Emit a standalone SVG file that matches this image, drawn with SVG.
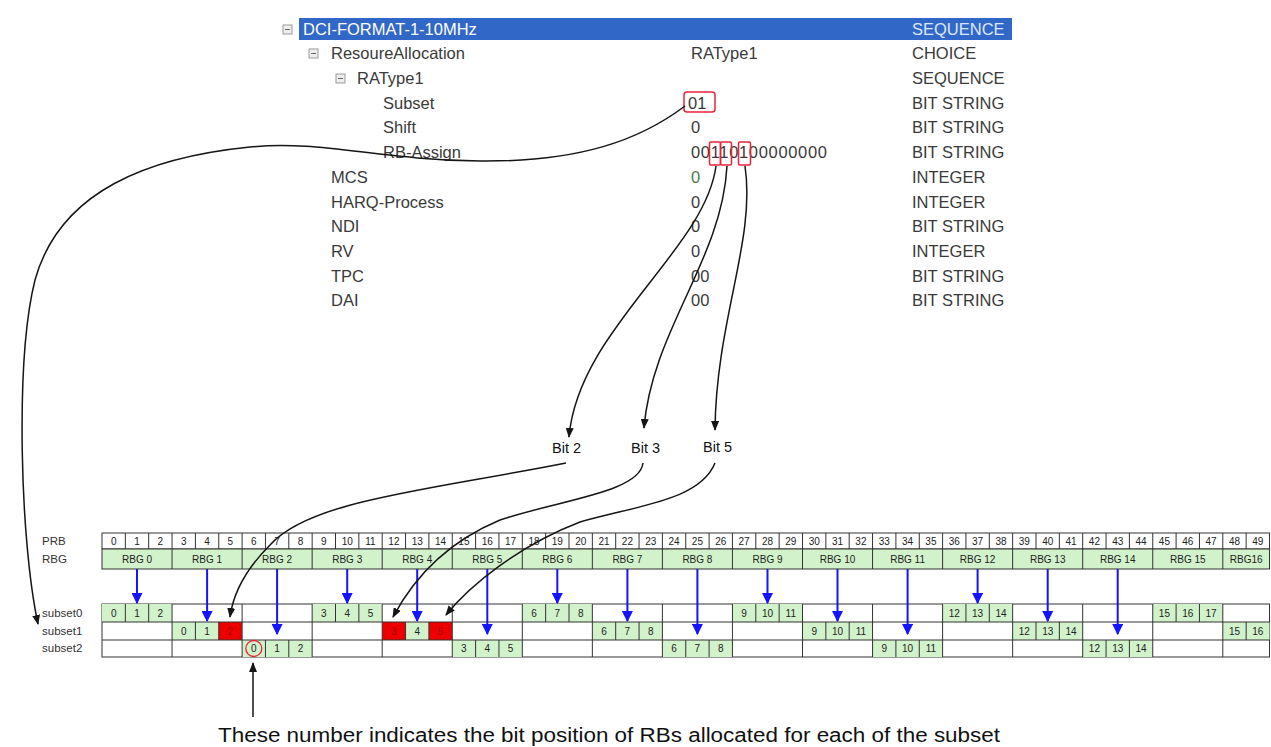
<svg xmlns="http://www.w3.org/2000/svg" width="1271" height="747" viewBox="0 0 1271 747">
<defs>
<style>
.t{font-family:"Liberation Sans",Arial,sans-serif;font-size:16.5px;fill:#3a3a3a}
.n{font-family:"Liberation Sans",Arial,sans-serif;font-size:10px;fill:#222;text-anchor:middle}
.nr{font-family:"Liberation Sans",Arial,sans-serif;font-size:10px;fill:#a00000;text-anchor:middle}
.lbl{font-family:"Liberation Sans",Arial,sans-serif;font-size:11.5px;fill:#333}
.bit{font-family:"Liberation Sans",Arial,sans-serif;font-size:14.5px;fill:#111}
.g{fill:#d2f2cc}
.grid{stroke:#333;stroke-width:1;fill:none}
.blue{stroke:#1414ff;stroke-width:2;fill:none;marker-end:url(#mb)}
.blk{stroke:#151515;stroke-width:1.5;fill:none;marker-end:url(#mk)}
.rb{fill:none;stroke:#e8223a;stroke-width:1.5}
.ic{fill:#eeeeee;stroke:#9a9a9a;stroke-width:1}
</style>
<marker id="mk" viewBox="0 0 10 8" refX="9" refY="4" markerWidth="10" markerHeight="8" markerUnits="userSpaceOnUse" orient="auto"><path d="M0,0L10,4L0,8z" fill="#151515"/></marker>
<marker id="mb" viewBox="0 0 10 10" refX="9" refY="5" markerWidth="11" markerHeight="11" markerUnits="userSpaceOnUse" orient="auto"><path d="M0,0L10,5L0,10z" fill="#1414ff"/></marker>
</defs>
<rect width="1271" height="747" fill="#ffffff"/>

<g id="tree">
  <g id="row-dci">
    <rect x="299" y="18" width="713" height="22" fill="#3168c8"/>
    <rect x="283" y="25" width="9" height="9" class="ic"/><path d="M285 29.5H290" stroke="#666"/>
    <text x="303" y="35" class="t" style="fill:#ffffff">DCI-FORMAT-1-10MHz</text>
    <text x="912" y="35" class="t" style="fill:#dce7ff">SEQUENCE</text>
  </g>
  <g id="row-resalloc">
    <rect x="309" y="49" width="9" height="9" class="ic"/><path d="M311 53.5H316" stroke="#666"/>
    <text x="331" y="59" class="t">ResoureAllocation</text>
    <text x="691" y="59" class="t">RAType1</text>
    <text x="912" y="59" class="t">CHOICE</text>
  </g>
  <g id="row-ratype1">
    <rect x="336" y="74" width="9" height="9" class="ic"/><path d="M338 78.5H343" stroke="#666"/>
    <text x="357" y="84" class="t">RAType1</text>
    <text x="912" y="84" class="t">SEQUENCE</text>
  </g>
  <g id="row-subset">
    <text x="383" y="109" class="t">Subset</text>
    <text x="688" y="109" class="t">01</text>
    <rect x="684" y="92" width="31" height="20" rx="3" class="rb"/>
    <text x="912" y="109" class="t">BIT STRING</text>
  </g>
  <g id="row-shift">
    <text x="383" y="133" class="t">Shift</text>
    <text x="691" y="133" class="t">0</text>
    <text x="912" y="133" class="t">BIT STRING</text>
  </g>
  <g id="row-rbassign">
    <text x="383" y="158" class="t">RB-Assign</text>
    <text x="691" y="158" class="t" textLength="136" lengthAdjust="spacing">00110100000000</text>
    <rect x="709.5" y="142" width="11" height="23" rx="1.5" class="rb"/>
    <rect x="720.5" y="142" width="11" height="23" rx="1.5" class="rb"/>
    <rect x="738.5" y="142" width="12" height="23" rx="1.5" class="rb"/>
    <text x="912" y="158" class="t">BIT STRING</text>
  </g>
  <g id="row-mcs">
    <text x="331" y="183" class="t">MCS</text>
    <text x="691" y="183" class="t" style="fill:#4d7a4d">0</text>
    <text x="912" y="183" class="t">INTEGER</text>
  </g>
  <g id="row-harq">
    <text x="331" y="208" class="t">HARQ-Process</text>
    <text x="691" y="208" class="t">0</text>
    <text x="912" y="208" class="t">INTEGER</text>
  </g>
  <g id="row-ndi">
    <text x="331" y="232" class="t">NDI</text>
    <text x="691" y="232" class="t">0</text>
    <text x="912" y="232" class="t">BIT STRING</text>
  </g>
  <g id="row-rv">
    <text x="331" y="257" class="t">RV</text>
    <text x="691" y="257" class="t">0</text>
    <text x="912" y="257" class="t">INTEGER</text>
  </g>
  <g id="row-tpc">
    <text x="331" y="282" class="t">TPC</text>
    <text x="691" y="282" class="t">00</text>
    <text x="912" y="282" class="t">BIT STRING</text>
  </g>
  <g id="row-dai">
    <text x="331" y="306" class="t">DAI</text>
    <text x="691" y="306" class="t">00</text>
    <text x="912" y="306" class="t">BIT STRING</text>
  </g>
</g>

<g id="bit-labels">
  <g id="bit2"><text x="552" y="453" class="bit">Bit 2</text></g>
  <g id="bit3"><text x="631" y="453" class="bit">Bit 3</text></g>
  <g id="bit5"><text x="703" y="452" class="bit">Bit 5</text></g>
</g>

<g id="table">
  <g id="row-labels">
    <text x="42" y="545" class="lbl">PRB</text>
    <text x="42" y="563" class="lbl">RBG</text>
    <text x="42" y="617" class="lbl">subset0</text>
    <text x="42" y="635" class="lbl">subset1</text>
    <text x="42" y="652" class="lbl">subset2</text>
  </g>
  <g id="prb-row">
    <rect x="102" y="533" width="1167.5" height="16" fill="#ffffff" stroke="#333"/>
    <path class="grid" d="M125.35 533V549M148.7 533V549M172.05 533V549M195.4 533V549M218.75 533V549M242.1 533V549M265.45 533V549M288.8 533V549M312.15 533V549M335.5 533V549M358.85 533V549M382.2 533V549M405.55 533V549M428.9 533V549M452.25 533V549M475.6 533V549M498.95 533V549M522.3 533V549M545.65 533V549M569 533V549M592.35 533V549M615.7 533V549M639.05 533V549M662.4 533V549M685.75 533V549M709.1 533V549M732.45 533V549M755.8 533V549M779.15 533V549M802.5 533V549M825.85 533V549M849.2 533V549M872.55 533V549M895.9 533V549M919.25 533V549M942.6 533V549M965.95 533V549M989.3 533V549M1012.65 533V549M1036 533V549M1059.35 533V549M1082.7 533V549M1106.05 533V549M1129.4 533V549M1152.75 533V549M1176.1 533V549M1199.45 533V549M1222.8 533V549M1246.15 533V549"/>
    <text class="n" y="545"><tspan x="113.7">0</tspan><tspan x="137">1</tspan><tspan x="160.4">2</tspan><tspan x="183.7">3</tspan><tspan x="207.1">4</tspan><tspan x="230.4">5</tspan><tspan x="253.8">6</tspan><tspan x="277.1">7</tspan><tspan x="300.5">8</tspan><tspan x="323.8">9</tspan><tspan x="347.2">10</tspan><tspan x="370.5">11</tspan><tspan x="393.9">12</tspan><tspan x="417.2">13</tspan><tspan x="440.6">14</tspan><tspan x="463.9">15</tspan><tspan x="487.3">16</tspan><tspan x="510.6">17</tspan><tspan x="534">18</tspan><tspan x="557.3">19</tspan><tspan x="580.7">20</tspan><tspan x="604">21</tspan><tspan x="627.4">22</tspan><tspan x="650.7">23</tspan><tspan x="674.1">24</tspan><tspan x="697.4">25</tspan><tspan x="720.8">26</tspan><tspan x="744.1">27</tspan><tspan x="767.5">28</tspan><tspan x="790.8">29</tspan><tspan x="814.2">30</tspan><tspan x="837.5">31</tspan><tspan x="860.9">32</tspan><tspan x="884.2">33</tspan><tspan x="907.6">34</tspan><tspan x="930.9">35</tspan><tspan x="954.3">36</tspan><tspan x="977.6">37</tspan><tspan x="1001">38</tspan><tspan x="1024.3">39</tspan><tspan x="1047.7">40</tspan><tspan x="1071">41</tspan><tspan x="1094.4">42</tspan><tspan x="1117.7">43</tspan><tspan x="1141.1">44</tspan><tspan x="1164.4">45</tspan><tspan x="1187.8">46</tspan><tspan x="1211.1">47</tspan><tspan x="1234.5">48</tspan><tspan x="1257.8">49</tspan></text>
  </g>
  <g id="rbg-row">
    <rect x="102" y="549" width="1167.5" height="20" class="g" stroke="#333"/>
    <path class="grid" d="M172.05 549V569M242.1 549V569M312.15 549V569M382.2 549V569M452.25 549V569M522.3 549V569M592.35 549V569M662.4 549V569M732.45 549V569M802.5 549V569M872.55 549V569M942.6 549V569M1012.65 549V569M1082.7 549V569M1152.75 549V569M1222.8 549V569"/>
    <text class="n" y="563"><tspan x="137">RBG 0</tspan><tspan x="207.1">RBG 1</tspan><tspan x="277.1">RBG 2</tspan><tspan x="347.2">RBG 3</tspan><tspan x="417.2">RBG 4</tspan><tspan x="487.3">RBG 5</tspan><tspan x="557.3">RBG 6</tspan><tspan x="627.4">RBG 7</tspan><tspan x="697.4">RBG 8</tspan><tspan x="767.5">RBG 9</tspan><tspan x="837.5">RBG 10</tspan><tspan x="907.6">RBG 11</tspan><tspan x="977.6">RBG 12</tspan><tspan x="1047.7">RBG 13</tspan><tspan x="1117.7">RBG 14</tspan><tspan x="1187.8">RBG 15</tspan><tspan x="1246.2">RBG16</tspan></text>
  </g>
  <g id="subset-rows">
    <rect x="102" y="604" width="1167.5" height="53" fill="#ffffff" stroke="#333"/>
    <!-- subset0 green -->
    <rect class="g" x="102" y="604" width="70.05" height="18"/>
    <rect class="g" x="312.15" y="604" width="70.05" height="18"/>
    <rect class="g" x="522.3" y="604" width="70.05" height="18"/>
    <rect class="g" x="732.45" y="604" width="70.05" height="18"/>
    <rect class="g" x="942.6" y="604" width="70.05" height="18"/>
    <rect class="g" x="1152.75" y="604" width="70.05" height="18"/>
    <!-- subset1 green -->
    <rect class="g" x="172.05" y="622" width="70.05" height="18"/>
    <rect class="g" x="382.2" y="622" width="70.05" height="18"/>
    <rect class="g" x="592.35" y="622" width="70.05" height="18"/>
    <rect class="g" x="802.5" y="622" width="70.05" height="18"/>
    <rect class="g" x="1012.65" y="622" width="70.05" height="18"/>
    <rect class="g" x="1222.8" y="622" width="46.7" height="18"/>
    <!-- red cells -->
    <rect x="218.75" y="622" width="23.35" height="18" fill="#ee0000"/>
    <rect x="382.2" y="622" width="23.35" height="18" fill="#ee0000"/>
    <rect x="428.9" y="622" width="23.35" height="18" fill="#ee0000"/>
    <!-- subset2 green -->
    <rect class="g" x="242.1" y="640" width="70.05" height="17"/>
    <rect class="g" x="452.25" y="640" width="70.05" height="17"/>
    <rect class="g" x="662.4" y="640" width="70.05" height="17"/>
    <rect class="g" x="872.55" y="640" width="70.05" height="17"/>
    <rect class="g" x="1082.7" y="640" width="70.05" height="17"/>
    <path class="grid" d="M102 622H1269.5M102 640H1269.5"/>
    <path class="grid" d="M172.05 604V657M242.1 604V657M312.15 604V657M382.2 604V657M452.25 604V657M522.3 604V657M592.35 604V657M662.4 604V657M732.45 604V657M802.5 604V657M872.55 604V657M942.6 604V657M1012.65 604V657M1082.7 604V657M1152.75 604V657M1222.8 604V657"/>
    <path class="grid" d="M125.35 604V622M148.7 604V622M335.5 604V622M358.85 604V622M545.65 604V622M569 604V622M755.8 604V622M779.15 604V622M965.95 604V622M989.3 604V622M1176.1 604V622M1199.45 604V622"/>
    <path class="grid" d="M195.4 622V640M218.75 622V640M405.55 622V640M428.9 622V640M615.7 622V640M639.05 622V640M825.85 622V640M849.2 622V640M1036 622V640M1059.35 622V640M1246.15 622V640"/>
    <path class="grid" d="M265.45 640V657M288.8 640V657M475.6 640V657M498.95 640V657M685.75 640V657M709.1 640V657M895.9 640V657M919.25 640V657M1106.05 640V657M1129.4 640V657"/>
    <text class="n" y="617"><tspan x="113.7">0</tspan><tspan x="137">1</tspan><tspan x="160.4">2</tspan><tspan x="323.8">3</tspan><tspan x="347.2">4</tspan><tspan x="370.5">5</tspan><tspan x="534">6</tspan><tspan x="557.3">7</tspan><tspan x="580.7">8</tspan><tspan x="744.1">9</tspan><tspan x="767.5">10</tspan><tspan x="790.8">11</tspan><tspan x="954.3">12</tspan><tspan x="977.6">13</tspan><tspan x="1001">14</tspan><tspan x="1164.4">15</tspan><tspan x="1187.8">16</tspan><tspan x="1211.1">17</tspan></text>
    <text class="n" y="635"><tspan x="183.7">0</tspan><tspan x="207.1">1</tspan><tspan x="417.2">4</tspan><tspan x="604">6</tspan><tspan x="627.4">7</tspan><tspan x="650.7">8</tspan><tspan x="814.2">9</tspan><tspan x="837.5">10</tspan><tspan x="860.9">11</tspan><tspan x="1024.3">12</tspan><tspan x="1047.7">13</tspan><tspan x="1071">14</tspan><tspan x="1234.5">15</tspan><tspan x="1257.8">16</tspan></text>
    <text class="nr" y="635"><tspan x="230.4">2</tspan><tspan x="393.9">3</tspan><tspan x="440.6">5</tspan></text>
    <text class="n" y="652"><tspan x="253.8">0</tspan><tspan x="277.1">1</tspan><tspan x="300.5">2</tspan><tspan x="463.9">3</tspan><tspan x="487.3">4</tspan><tspan x="510.6">5</tspan><tspan x="674.1">6</tspan><tspan x="697.4">7</tspan><tspan x="720.8">8</tspan><tspan x="884.2">9</tspan><tspan x="907.6">10</tspan><tspan x="930.9">11</tspan><tspan x="1094.4">12</tspan><tspan x="1117.7">13</tspan><tspan x="1141.1">14</tspan></text>
    <circle cx="253.8" cy="648.5" r="8" fill="none" stroke="#e8223a" stroke-width="1.3"/>
  </g>
</g>

<g id="caption">
  <text x="218" y="742" style="font-family:'Liberation Sans',Arial,sans-serif;font-size:19.5px;fill:#111" textLength="782" lengthAdjust="spacingAndGlyphs">These number indicates the bit position of RBs allocated for each of the subset</text>
</g>

<g id="connectors">
  <g id="blue-arrows">
    <path class="blue" d="M137 569V603"/>
    <path class="blue" d="M207.1 569V621"/>
    <path class="blue" d="M277.1 569V634"/>
    <path class="blue" d="M347.2 569V603"/>
    <path class="blue" d="M417.2 569V621"/>
    <path class="blue" d="M487.3 569V634"/>
    <path class="blue" d="M557.3 569V603"/>
    <path class="blue" d="M627.4 569V621"/>
    <path class="blue" d="M697.4 569V634"/>
    <path class="blue" d="M767.5 569V603"/>
    <path class="blue" d="M837.5 569V621"/>
    <path class="blue" d="M907.6 569V634"/>
    <path class="blue" d="M977.6 569V603"/>
    <path class="blue" d="M1047.7 569V621"/>
    <path class="blue" d="M1117.7 569V634"/>
  </g>
  <path class="blk" d="M685 106C640 140 580 162 480 161C380 160 320 140 250 147C150 157 60 190 35 280C15 360 20 540 38 624"/>
  <path class="blk" d="M716 166C705 250 578 330 569 437"/>
  <path class="blk" d="M727 166C722 260 652 330 644 428"/>
  <path class="blk" d="M745 166C756 240 716 320 715 430"/>
  <path class="blk" d="M566 463C430 490 310 500 270 545C245 570 233 595 230 617"/>
  <path class="blk" d="M643 463C640 492 560 500 500 520C440 545 410 585 393 617"/>
  <path class="blk" d="M715 463C700 500 640 505 580 522C520 545 470 585 446 615"/>
  <path class="blk" d="M253 717V663"/>
</g>
</svg>
